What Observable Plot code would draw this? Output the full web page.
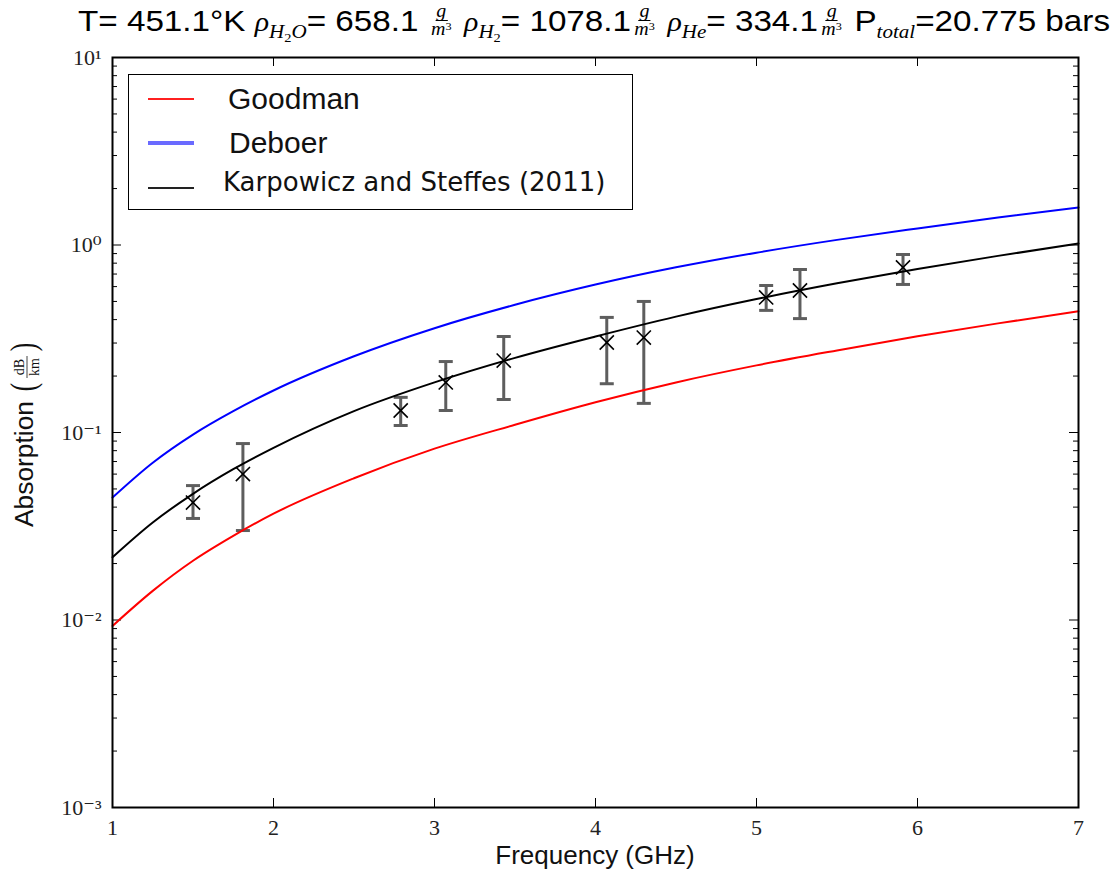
<!DOCTYPE html>
<html>
<head>
<meta charset="utf-8">
<script src="https://cdn.jsdelivr.net/npm/d3@7"></script>
<script src="https://cdn.jsdelivr.net/npm/@observablehq/plot@0.6"></script>
<style>
  html, body { margin: 0; padding: 0; background: white; }
  #wrap { position: relative; width: 1117px; height: 872px; overflow: hidden; }
  #chart { position: absolute; left: 0; top: 0; }
  #title { position: absolute; left: 78px; top: 2px; white-space: nowrap; font-family: "Liberation Sans", Arial, sans-serif; font-size: 30px; line-height: 38px; color: #000; transform-origin: left top; }
  .m { font-family: "Liberation Serif", serif; font-style: italic; font-size: 27px; }
  .sub { font-size: 19px; vertical-align: -7px; }
  .sub2 { font-size: 13px; vertical-align: -4px; font-style: normal; }
  .frac { display: inline-flex; flex-direction: column; align-items: center; vertical-align: middle; font-family: "Liberation Serif", serif; font-style: italic; font-size: 18px; line-height: 16px; margin: 0 3px; position: relative; top: -3px; }
  .frac .num { padding: 0 1px 1px 1px; border-bottom: 1px solid #000; }
  .frac sup { font-size: 11px; font-style: normal; vertical-align: 5px; line-height: 0; }
  #legend { position: absolute; left: 128px; top: 74px; width: 503px; height: 134px; border: 1.5px solid #000; background: white; }
  .lline { position: absolute; left: 19px; width: 46px; }
  .ltext { position: absolute; white-space: nowrap; color: #111; }
</style>
</head>
<body>
<div id="wrap">
  <div id="chart"></div>
  <div id="title">T= 451.1°K <span class="m">ρ<span class="sub">H<span class="sub2">2</span>O</span></span>= 658.1 <span class="frac"><span class="num">g</span><span>m<sup>3</sup></span></span> <span class="m">ρ<span class="sub">H<span class="sub2">2</span></span></span>= 1078.1<span class="frac"><span class="num">g</span><span>m<sup>3</sup></span></span> <span class="m">ρ<span class="sub">He</span></span>= 334.1<span class="frac"><span class="num">g</span><span>m<sup>3</sup></span></span> P<span class="m sub" style="font-size:19px">total</span>=20.775 bars</div>
  <div id="legend"></div>
</div>
<script>
// ---------- data ----------
const freq      = [1, 1.25, 1.5, 1.75, 2, 2.5, 3, 3.5, 4, 4.5, 5, 5.5, 6, 6.5, 7];
const goodman   = [0.0093, 0.0143, 0.0207, 0.0281, 0.0369, 0.057, 0.082, 0.11, 0.145, 0.185, 0.228, 0.274, 0.326, 0.382, 0.443];
const deboer    = [0.045, 0.069, 0.0975, 0.130, 0.1675, 0.255, 0.36, 0.48, 0.615, 0.76, 0.91, 1.065, 1.225, 1.40, 1.585];
const karpowicz = [0.0216, 0.0331, 0.0471, 0.0637, 0.0828, 0.130, 0.185, 0.25, 0.325, 0.415, 0.515, 0.625, 0.745, 0.875, 1.018];

const measFreq = [1.50, 1.81, 2.79, 3.07, 3.43, 4.07, 4.30, 5.06, 5.27, 5.91];
const measVal  = [0.0423, 0.060, 0.131, 0.185, 0.242, 0.302, 0.321, 0.525, 0.572, 0.759];
const measLo   = [0.0348, 0.030, 0.109, 0.131, 0.150, 0.182, 0.143, 0.448, 0.405, 0.616];
const measHi   = [0.0521, 0.0873, 0.154, 0.239, 0.325, 0.411, 0.50, 0.608, 0.74, 0.89];

const seriesNames  = ["Goodman", "Deboer", "Karpowicz and Steffes (2011)"];
const seriesColors = ["#ff0000", "#0000ff", "#000000"];

const xTicks = [1, 2, 3, 4, 5, 6, 7];
const yMajor = [1e-3, 1e-2, 1e-1, 1, 10];
const yTickLabels = ["10⁻³", "10⁻²", "10⁻¹", "10⁰", "10¹"];
const yMinor = [];
for (let k = -3; k < 1; k++) for (let m = 2; m <= 9; m++) yMinor.push(m * Math.pow(10, k));

// ---------- tables ----------
const curves = [];
[goodman, deboer, karpowicz].forEach((arr, i) => {
  arr.forEach((v, j) => curves.push({ f: freq[j], v, s: seriesNames[i] }));
});
const meas = measFreq.map((f, i) => ({ f, v: measVal[i], lo: measLo[i], hi: measHi[i] }));

// ---------- layout ----------
const W = 1117, H = 872, mL = 112, mR = 39, mT = 57, mB = 65;
const plotW = W - mL - mR, plotH = H - mT - mB;

const capSymbol = {
  draw(ctx, size) {
    const w = Math.sqrt(size / Math.PI);
    ctx.moveTo(-w, 0); ctx.lineTo(w, 0);
  }
};

const serif = "Liberation Serif, DejaVu Serif, serif";

const chart = Plot.plot({
  width: W, height: H,
  marginLeft: mL, marginRight: mR, marginTop: mT, marginBottom: mB,
  style: { background: "white", overflow: "visible" },
  x: { domain: [1, 7] },
  y: { type: "log", domain: [1e-3, 10] },
  color: { domain: seriesNames, range: seriesColors },
  marks: [
    // ticks inside frame
    Plot.ruleY(yMajor, { y: d => d, insetRight: plotW - 9, stroke: "#000", strokeWidth: 1 }),
    Plot.ruleY(yMajor, { y: d => d, insetLeft: plotW - 9, stroke: "#000", strokeWidth: 1 }),
    Plot.ruleY(yMinor, { y: d => d, insetRight: plotW - 5, stroke: "#000", strokeWidth: 1 }),
    Plot.ruleY(yMinor, { y: d => d, insetLeft: plotW - 5, stroke: "#000", strokeWidth: 1 }),
    Plot.ruleX(xTicks, { x: d => d, insetTop: plotH - 9, stroke: "#000", strokeWidth: 1 }),
    Plot.ruleX(xTicks, { x: d => d, insetBottom: plotH - 9, stroke: "#000", strokeWidth: 1 }),
    // error bars
    Plot.ruleX(meas, { x: "f", y1: "lo", y2: "hi", stroke: "#5e5e5e", strokeWidth: 3 }),
    Plot.dot(meas, { x: "f", y: "lo", symbol: capSymbol, r: 7, stroke: "#5e5e5e", strokeWidth: 3 }),
    Plot.dot(meas, { x: "f", y: "hi", symbol: capSymbol, r: 7, stroke: "#5e5e5e", strokeWidth: 3 }),
    // model curves
    Plot.line(curves, { x: "f", y: "v", z: "s", stroke: "s", strokeWidth: 2, curve: "monotone-x" }),
    // measurements
    Plot.dot(meas, { x: "f", y: "v", symbol: "times", r: 6.5, stroke: "#000", strokeWidth: 1.6 }),
    Plot.frame({ stroke: "#000", strokeWidth: 2 }),
    Plot.axisY({ ticks: yMajor, tickSize: 0, tickPadding: 11, label: null,
      tickFormat: d => yTickLabels[yMajor.indexOf(d)], fontSize: 22, fontFamily: serif }),
    Plot.axisX({ ticks: xTicks, tickSize: 0, tickPadding: 12, label: null,
      tickFormat: d => String(d), fontSize: 22, fontFamily: serif })
  ]
});
chart.style.fill = "#222";
document.getElementById("chart").appendChild(chart);

// axis titles
const svg = d3.select(chart);
svg.append("text")
  .attr("x", mL + plotW / 2).attr("y", 864)
  .attr("text-anchor", "middle")
  .attr("font-family", "Liberation Sans, Arial, sans-serif")
  .attr("font-size", 26).attr("fill", "#111")
  .text("Frequency (GHz)");

const yl = svg.append("g").attr("transform", "translate(26,435) rotate(-90)")
  .attr("fill", "#111").attr("text-anchor", "start");
yl.append("text").attr("x", -92).attr("y", 7).attr("text-anchor", "start")
  .attr("font-family", "Liberation Sans, Arial, sans-serif").attr("font-size", 25)
  .attr("textLength", 126).attr("lengthAdjust", "spacingAndGlyphs")
  .text("Absorption");
yl.append("text").attr("x", 48).attr("y", 9).attr("text-anchor", "middle")
  .attr("font-family", serif).attr("font-size", 36)
  .attr("transform", "translate(48,9) scale(0.7,1) translate(-48,-9)")
  .text("(");
yl.append("text").attr("x", 88).attr("y", 9).attr("text-anchor", "middle")
  .attr("font-family", serif).attr("font-size", 36)
  .attr("transform", "translate(88,9) scale(0.7,1) translate(-88,-9)")
  .text(")");
yl.append("text").attr("x", 68).attr("y", -2).attr("text-anchor", "middle")
  .attr("font-family", serif).attr("font-size", 14).text("dB");
yl.append("line").attr("x1", 57).attr("x2", 79).attr("y1", 1).attr("y2", 1)
  .attr("stroke", "#111").attr("stroke-width", 0.8);
yl.append("text").attr("x", 68).attr("y", 13).attr("text-anchor", "middle")
  .attr("font-family", serif).attr("font-size", 14).text("km");

// legend
const legend = document.getElementById("legend");
const legendRows = [
  { top: 24, text: 24, left: 99, font: "Liberation Sans, Arial, sans-serif", size: 30, width: 2, color: "#ff2020" },
  { top: 68, text: 68, left: 100, font: "Liberation Sans, Arial, sans-serif", size: 30, width: 4, color: "#6a6aff" },
  { top: 113, text: 108, left: 94, font: "DejaVu Sans, sans-serif", size: 26, width: 2.5, color: "#222" }
];
legendRows.forEach((r, i) => {
  const ln = document.createElement("div");
  ln.className = "lline";
  ln.style.top = (r.top - r.width / 2) + "px";
  ln.style.height = r.width + "px";
  ln.style.background = r.color;
  legend.appendChild(ln);
  const t = document.createElement("div");
  t.className = "ltext";
  t.style.left = r.left + "px";
  t.style.top = (r.text - r.size * 0.6) + "px";
  t.style.fontFamily = r.font;
  t.style.fontSize = r.size + "px";
  t.style.lineHeight = (r.size * 1.2) + "px";
  t.textContent = seriesNames[i];
  legend.appendChild(t);
});

// fit title width
const title = document.getElementById("title");
const tw = title.getBoundingClientRect().width;
const target = 1110 - 78;
const s = target / tw;
if (s > 0.8 && s < 1.25) title.style.transform = `scaleX(${s})`;
</script>
</body>
</html>
